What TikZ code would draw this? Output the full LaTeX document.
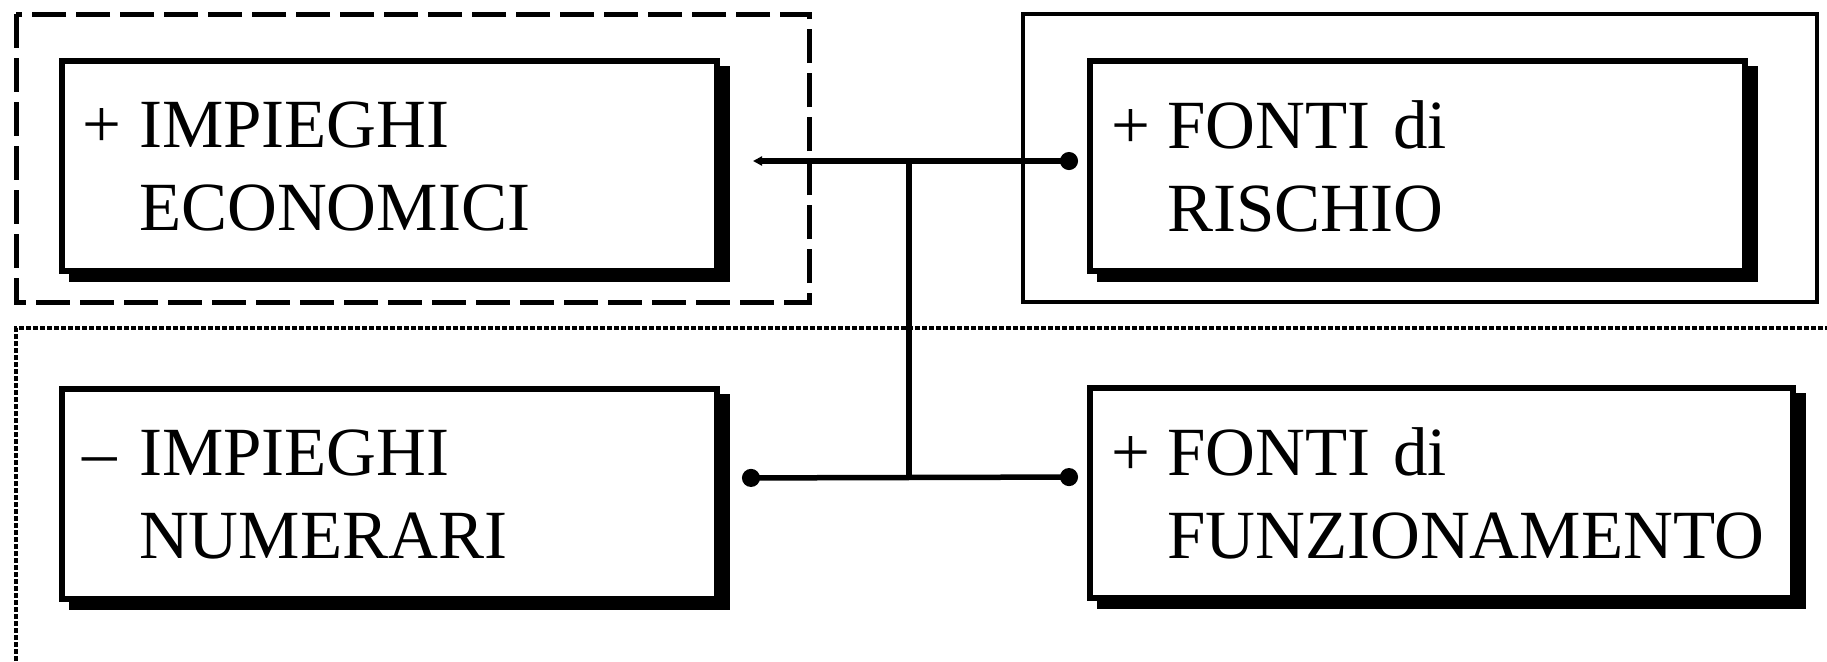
\documentclass[tikz,border=0pt]{standalone}
\usepackage{fontspec}
\setmainfont{Liberation Serif}
\usetikzlibrary{arrows.meta,shadows,calc,positioning}

\newcommand{\voce}[3]{\makebox[0.814em][l]{#1}#2\\\hspace*{0.814em}#3}

\begin{document}
\begin{tikzpicture}[x=0.5pt,y=-0.5pt,
    box/.style={draw,line width=3pt,fill=white,inner xsep=10.5pt,
      minimum height=105pt,align=left,text width=306.5pt,
      font=\fontsize{34.5pt}{41.5pt}\selectfont,
      drop shadow={shadow xshift=5pt,shadow yshift=-4pt,fill=black,
        draw=black,line width=3pt,opacity=1}},
    conn/.style={line width=2.75pt}]
    \useasboundingbox (0,0) rectangle (1827,661);

    \node (Eco) at (389.5,166) [box] {\voce{+}{IMPIEGHI}{ECONOMICI}};
    \node (Ris) at (1417.5,166) [box] {\voce{+}{FONTI di}{RISCHIO}};
    \node (Num) at (389.5,494) [box] {\voce{--}{IMPIEGHI}{NUMERARI}};
    \node (Fun) at (1441.5,493) [box,text width=330.5pt] {\voce{+}{FONTI di}{FUNZIONAMENTO}};

    % areas
    \draw[line width=2.5pt,dash pattern=on 17pt off 5pt] (16,14) rectangle (809,302);
    \draw[line width=2.25pt] (1023,14) rectangle (1817,302);
    \draw[line width=2pt,dash pattern=on 2.5pt off 1pt] (16,661) -- (16,328) -- (1827,328);

    \coordinate (JTop) at (909,161);
    \coordinate (JBot) at (909,478);

    \draw[conn, {Circle[length=9pt,width=9pt]}-{Triangle[length=4.5pt,width=4.5pt]},
      shorten <=4.5pt, shorten >=16.5pt] ([yshift=2.5pt]Ris.west) -- ([yshift=2.5pt]Eco.east);
    \draw[conn, line width=3.25pt] (JTop) -- ([shift={(20pt,2.5pt)}]Eco.east);
    \draw[conn, {Circle[length=9pt,width=9pt]}-{Circle[length=9pt,width=9pt]},
      shorten <=11pt, shorten >=4.5pt] ([yshift=8pt]Num.east) -- ([yshift=8pt]Fun.west);
    \draw[conn] (JTop) -- (JBot);
  \end{tikzpicture}
\end{document}
